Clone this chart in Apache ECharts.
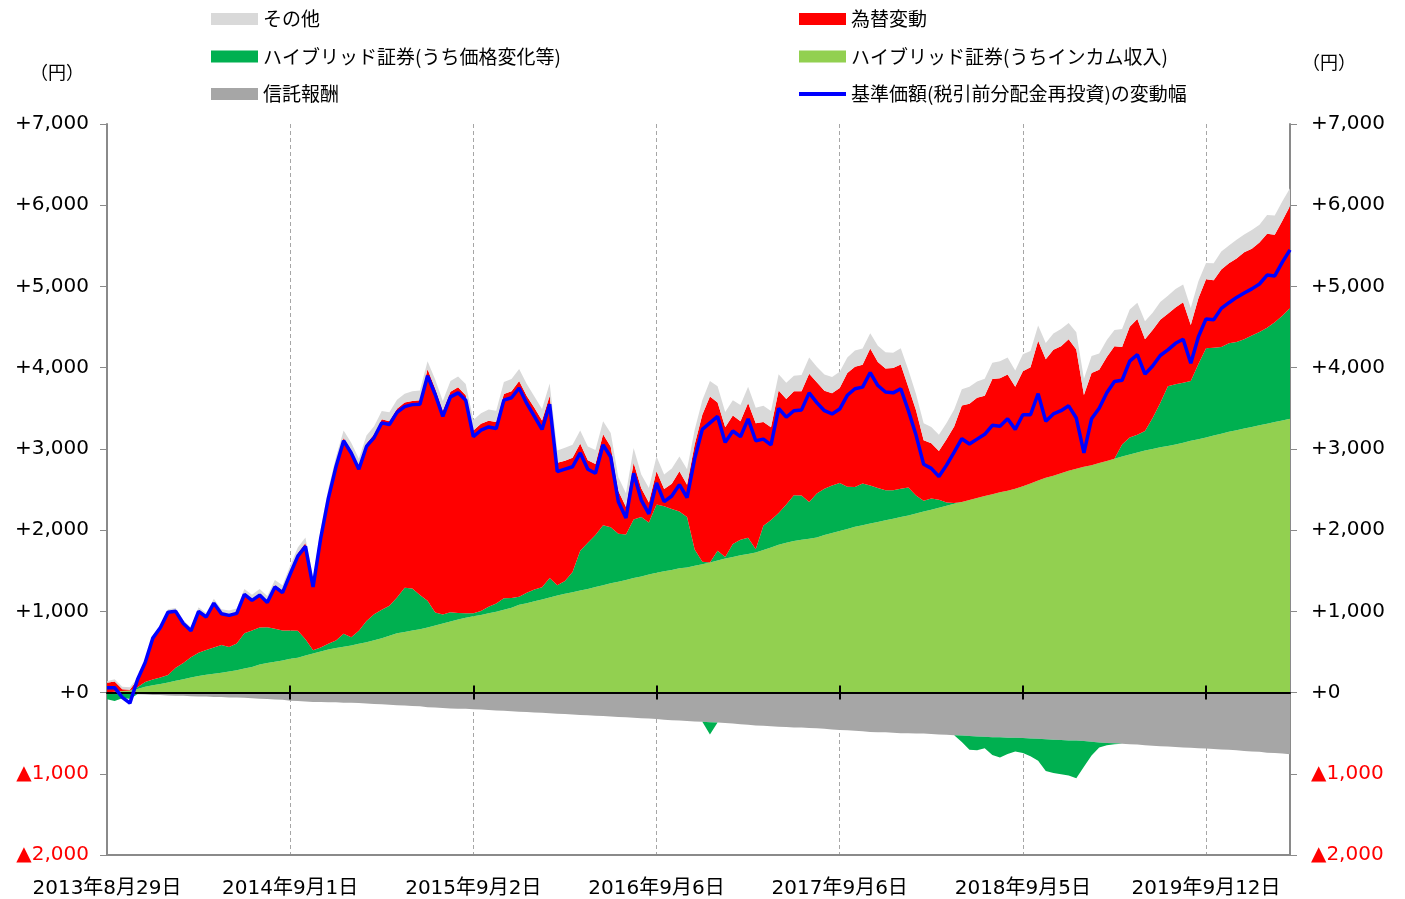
<!DOCTYPE html>
<html><head><meta charset="utf-8">
<script src="https://cdn.jsdelivr.net/npm/echarts@6/dist/echarts.min.js"></script>
<style>html,body{margin:0;padding:0;background:#fff}#c{width:1405px;height:899px}</style>
</head><body><div id="c"></div>
<script>
// tick labels shown on the x axis (one per year, 24 semi-monthly points per year)
const tickLabels = ['2013年8月29日','2014年9月1日','2015年9月2日','2016年9月6日','2017年9月6日','2018年9月5日','2019年9月12日'];
const tickDates = ['2013-08-29','2014-09-01','2015-09-02','2016-09-06','2017-09-06','2018-09-05','2019-09-12'];
const pointsPerYear = 24;
const yTicks = [-2000,-1000,0,1000,2000,3000,4000,5000,6000,7000];

// 基準価額(税引前分配金再投資)の変動幅
const total = [60,60,-60,-130,160,370,670,800,990,1000,
850,760,1000,930,1100,970,950,975,1210,1135,
1200,1110,1300,1230,1460,1680,1800,1300,1900,2390,
2780,3100,2950,2750,3030,3140,3320,3300,3450,3520,
3545,3550,3900,3670,3400,3640,3690,3600,3150,3230,
3270,3250,3600,3630,3750,3560,3400,3240,3550,2720,
2750,2780,2950,2750,2700,3050,2900,2350,2150,2700,
2370,2200,2580,2350,2420,2560,2400,2880,3240,3320,
3400,3080,3220,3150,3370,3100,3120,3050,3500,3390,
3470,3480,3690,3570,3470,3430,3490,3660,3740,3760,
3940,3780,3700,3690,3740,3470,3170,2810,2760,2660,
2800,2960,3125,3060,3120,3180,3290,3280,3370,3240,
3420,3420,3680,3340,3430,3470,3530,3380,2950,3370,
3500,3690,3830,3845,4080,4160,3920,4020,4150,4220,
4300,4350,4055,4380,4600,4590,4730,4800,4865,4920,
4970,5030,5140,5130,5300,5450];

// ハイブリッド証券(うちインカム収入)
const income = [0,10,20,25,45,70,90,105,125,145,
165,185,205,220,230,245,260,275,295,315,
345,365,380,395,415,430,455,480,505,530,
550,565,580,600,620,645,670,700,730,745,
765,780,800,825,850,875,900,920,940,955,
975,995,1020,1045,1080,1100,1125,1145,1170,1195,
1215,1235,1255,1275,1300,1320,1345,1365,1385,1410,
1430,1455,1475,1495,1510,1530,1540,1560,1580,1600,
1625,1650,1670,1690,1705,1725,1755,1785,1820,1845,
1865,1880,1895,1910,1940,1965,1990,2015,2040,2060,
2080,2100,2120,2140,2160,2180,2205,2230,2250,2275,
2300,2325,2345,2370,2395,2420,2440,2465,2485,2510,
2540,2575,2610,2645,2670,2700,2730,2755,2780,2800,
2825,2850,2880,2905,2930,2955,2980,3000,3020,3035,
3055,3075,3100,3120,3140,3165,3185,3210,3230,3250,
3270,3290,3310,3330,3350,3370];

// ハイブリッド証券(うち価格変化等)
const price = [-80,-100,-60,-60,20,60,70,80,90,160,
200,250,285,305,325,340,300,330,435,450,
455,440,405,370,350,330,200,40,50,70,
90,160,100,160,260,320,350,370,440,545,
515,420,330,160,110,115,80,55,35,50,
80,100,140,120,100,130,145,150,240,125,
160,250,490,570,640,740,690,590,560,720,
730,640,840,800,750,700,620,200,30,-150,
120,20,160,190,200,40,300,340,390,470,
565,545,450,540,570,585,590,520,490,515,
470,420,370,350,350,345,220,130,140,100,
40,10,-80,-170,-170,-140,-220,-250,-200,-170,
-185,-220,-270,-390,-410,-420,-430,-465,-320,-170,
-60,-30,-10,150,210,220,240,380,545,735,
740,740,735,925,1100,1080,1070,1090,1085,1100,
1125,1150,1180,1230,1290,1365];

// 為替変動
const fx = [120,125,20,10,95,235,510,615,770,695,
485,330,510,405,550,390,400,380,485,380,
415,325,540,495,725,955,1185,825,1380,1830,
2180,2410,2305,2030,2185,2215,2345,2270,2325,2280,
2310,2400,2850,2760,2510,2715,2780,2685,2250,2305,
2290,2235,2515,2545,2655,2420,2235,2055,2245,1510,
1480,1405,1320,1015,875,1120,990,525,340,700,
355,245,410,210,310,495,400,1295,1810,2045,
1825,1595,1580,1460,1660,1550,1275,1140,1510,1300,
1280,1285,1580,1370,1205,1135,1170,1400,1480,1460,
1685,1550,1500,1505,1530,1235,1050,745,680,600,
780,940,1190,1185,1235,1235,1420,1405,1430,1255,
1415,1430,1720,1460,1550,1565,1620,1470,885,1135,
1150,1280,1385,1200,1365,1425,1130,1085,1025,895,
945,990,690,810,850,830,955,985,1030,1070,
1070,1100,1160,1075,1170,1255];

// その他
const other = [20,30,30,30,20,30,30,30,40,40,
40,40,50,50,50,50,50,50,60,60,
60,60,60,60,70,70,70,70,80,80,
80,90,90,90,100,100,100,110,110,110,
120,120,100,110,120,130,130,140,130,130,
140,140,150,150,150,150,140,140,150,150,
160,160,160,170,170,160,170,170,170,180,
170,180,180,180,190,180,190,180,180,190,
200,190,190,200,200,190,200,200,200,200,
190,200,200,190,200,200,200,190,200,200,
190,200,200,190,200,210,200,210,200,200,
200,210,200,210,200,210,200,210,210,200,
210,200,190,200,200,210,200,210,200,210,
200,210,200,220,210,200,220,210,220,220,
230,220,210,210,200,210,220,220,230,220,
230,220,230,240,240,220];

// 信託報酬
const fee = [-2,-5,-10,-15,-20,-25,-30,-30,-35,-40,
-40,-45,-50,-50,-55,-55,-60,-60,-65,-70,
-75,-80,-85,-90,-100,-105,-110,-115,-115,-120,
-120,-125,-125,-130,-135,-140,-145,-150,-155,-160,
-165,-170,-180,-185,-190,-195,-200,-200,-205,-210,
-215,-220,-225,-230,-235,-240,-245,-250,-255,-260,
-265,-270,-275,-280,-285,-290,-295,-300,-305,-310,
-315,-320,-325,-335,-340,-345,-350,-355,-360,-365,
-370,-375,-380,-390,-395,-405,-410,-415,-420,-425,
-430,-430,-435,-440,-445,-455,-460,-465,-470,-475,
-485,-490,-490,-495,-500,-500,-505,-505,-510,-515,
-520,-525,-530,-535,-540,-545,-550,-550,-555,-555,
-560,-565,-570,-575,-580,-585,-590,-590,-595,-605,
-615,-620,-625,-630,-635,-640,-650,-655,-660,-665,
-670,-675,-680,-685,-690,-695,-700,-705,-710,-720,
-725,-730,-740,-745,-750,-760];

// ---- build categories (semi-monthly dates anchored at the tick dates)
const categories = total.map((_, i) => {
  const k = Math.min(Math.floor(i / pointsPerYear), tickDates.length - 1);
  const j = i - k * pointsPerYear;
  if (j === 0) return tickLabels[k];
  const p = tickDates[k].split('-').map(Number);
  const d = new Date(Date.UTC(p[0], p[1] - 1, p[2]) + Math.round(j * 365.25 / pointsPerYear) * 86400000);
  return d.getUTCFullYear() + '年' + (d.getUTCMonth() + 1) + '月' + d.getUTCDate() + '日';
});
const isTick = (i) => i % pointsPerYear === 0;

const pricePos = price.map(v => Math.max(v, 0));
const priceNeg = price.map(v => Math.min(v, 0));

const N_OTHER = 'その他', N_FX = '為替変動', N_PRICE = 'ハイブリッド証券(うち価格変化等)',
      N_INC = 'ハイブリッド証券(うちインカム収入)', N_FEE = '信託報酬', N_TOT = '基準価額(税引前分配金再投資)の変動幅';

const area = (name, data, color) => ({
  type: 'line', name, data, stack: 'all', color, symbol: 'none', showSymbol: false,
  lineStyle: { width: 0 }, areaStyle: { color, opacity: 1 },
  emphasis: { disabled: true }, silent: true, animation: false
});

const latin = "'DejaVu Sans', 'Noto Sans CJK JP', sans-serif";
const jp = "'Noto Sans CJK JP', sans-serif";

const yFmt = (v) => v > 0 ? '+' + v.toLocaleString('en-US') : (v === 0 ? '+0' : '▲' + Math.abs(v).toLocaleString('en-US'));
const yAxisBase = (pos, margin) => ({
  type: 'value', position: pos, min: yTicks[0], max: yTicks[yTicks.length - 1], interval: 1000,
  axisLine: { show: true, onZero: false, lineStyle: { color: '#8a8a8a', width: 2 } },
  axisTick: { show: true, length: 7, lineStyle: { color: '#8a8a8a', width: 1 } },
  splitLine: { show: false },
  axisLabel: { margin, fontSize: 20, fontFamily: latin, formatter: yFmt,
    color: (v) => (Number(v) < 0 ? '#FF0000' : '#000000') }
});

const legendBase = (left, data) => ({
  left, top: 9, orient: 'vertical', padding: 0, itemWidth: 47, itemHeight: 12, itemGap: 17.5,
  selectedMode: false, textStyle: { fontSize: 19, fontFamily: jp, color: '#000', lineHeight: 20, padding: [0, 0, 0, 0] },
  data
});

const chart = echarts.init(document.getElementById('c'), null, { renderer: 'canvas' });
chart.setOption({
  animation: false,
  backgroundColor: '#ffffff',
  grid: { left: 107, right: 115, top: 124, bottom: 44, containLabel: false },
  legend: [
    legendBase(211, [{ name: N_OTHER, icon: 'rect' }, { name: N_PRICE, icon: 'rect' }, { name: N_FEE, icon: 'rect' }]),
    legendBase(797, [{ name: N_FX, icon: 'rect' }, { name: N_INC, icon: 'rect' },
      { name: N_TOT, itemStyle: { opacity: 0 }, lineStyle: { width: 4, color: '#0000FF' } }])
  ],
  xAxis: [
    { type: 'category', data: categories, boundaryGap: false, position: 'bottom',
      axisLine: { onZero: false, lineStyle: { color: '#8a8a8a', width: 2 } },
      axisTick: { show: false },
      axisLabel: { interval: (i) => isTick(i), margin: 24, fontSize: 20, fontFamily: latin, color: '#000' },
      splitLine: { show: true, interval: (i) => isTick(i) && i > 0, lineStyle: { color: '#a6a6a6', type: [4, 3], width: 1 } } },
    { type: 'category', data: categories, boundaryGap: false, position: 'bottom', z: 5,
      axisLine: { onZero: true, lineStyle: { color: '#000', width: 2 } },
      axisTick: { show: true, inside: true, length: 7, interval: (i) => isTick(i) && i > 0, lineStyle: { color: '#000', width: 2 } },
      axisLabel: { show: false }, splitLine: { show: false } },
    { type: 'category', data: categories, boundaryGap: false, position: 'bottom', z: 5,
      axisLine: { show: false, onZero: true },
      axisTick: { show: true, inside: false, length: 7, interval: (i) => isTick(i) && i > 0, lineStyle: { color: '#000', width: 2 } },
      axisLabel: { show: false }, splitLine: { show: false } }
  ],
  yAxis: [ yAxisBase('left', 18), yAxisBase('right', 21) ],
  graphic: [
    { type: 'text', left: 30, top: 63, style: { text: '（円）', fontSize: 18, fontFamily: jp, fill: '#000' } },
    { type: 'text', left: 1302, top: 53, style: { text: '（円）', fontSize: 18, fontFamily: jp, fill: '#000' } }
  ],
  series: [
    area(N_INC, income, '#92D050'),
    area(N_PRICE, pricePos, '#00B050'),
    area(N_FX, fx, '#FF0000'),
    area(N_OTHER, other, '#D9D9D9'),
    area(N_FEE, fee, '#A6A6A6'),
    area(N_PRICE, priceNeg, '#00B050'),
    { type: 'line', name: N_TOT, data: total, color: '#0000FF', symbol: 'none', showSymbol: false, z: 6,
      lineStyle: { width: 3.5, color: '#0000FF' }, emphasis: { disabled: true }, silent: true, animation: false }
  ]
});
</script>
</body></html>
